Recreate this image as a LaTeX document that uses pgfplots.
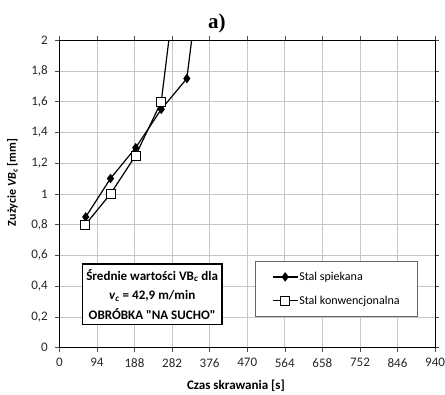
\documentclass[border=0pt]{standalone}
\usepackage{pgfplots}
\pgfplotsset{compat=1.18}
\usepackage{fontspec}
\setmainfont{Carlito}[Ligatures=TeXOff]
\newfontfamily\timesfont{Liberation Serif}
\begin{document}
\begin{tikzpicture}
\begin{axis}[
  scale only axis,
  width=375pt, height=307pt,
  xmin=0, xmax=940, ymin=0, ymax=2,
  xtick={0,94,188,282,376,470,564,658,752,846,940},
  ytick={0,0.2,0.4,0.6,0.8,1,1.2,1.4,1.6,1.8,2},
  grid=major,
  grid style={gray!45, line width=0.6pt},
  axis line style={black, line width=0.9pt},
  tick style={black!70, line width=0.5pt},
  tick align=outside,
  major tick length=4pt,
  /pgf/number format/assume math mode=true,
  /pgf/number format/use comma,
  tick label style={font=\fontsize{13}{13}\selectfont, text=black!85},
  yticklabel style={xshift=-4pt},
  xticklabel style={yshift=-3pt, inner xsep=0pt},
  xlabel={\textbf{Czas skrawania [s]}},
  ylabel={\textbf{Zużycie \textit{VB}\textsubscript{\textit{c}} [mm]}},
  xlabel style={font=\fontsize{13}{13}\selectfont, at={(axis description cs:0.47,0)}, anchor=center, yshift=-38pt},
  ylabel style={font=\fontsize{12}{12}\selectfont, at={(axis description cs:-0.125,0.537)}, anchor=center, inner sep=7pt},
  title={\rule{0pt}{28pt}a)},
  title style={at={(0.419,1)}, anchor=base, yshift=6pt, inner sep=0pt, font=\timesfont\bfseries\fontsize{21}{22}\selectfont},
  clip marker paths=true,
  legend cell align=left,
  legend image code/.code={\draw[mark repeat=2,mark phase=2] plot coordinates {(0pt,0pt)(12.5pt,0pt)(25pt,0pt)};},
  legend style={at={(rel axis cs:0.52,0.283)}, anchor=north west,
    draw=black!60, line width=0.6pt,
    font=\fontsize{12}{12}\selectfont,
    inner xsep=17pt, inner ysep=9pt, row sep=10pt,
    nodes={inner xsep=1pt}},
]
\addplot[black, line width=1.2pt, mark=diamond*, mark size=3.8pt, mark options={fill=black}]
  coordinates {(66,0.85) (128,1.1) (191,1.3) (255,1.55) (319,1.75) (343,2.25)};
\addlegendentry{Stal spiekana}
\addplot[black, line width=1.2pt, mark=square*, mark size=4.5pt, mark options={fill=white, line width=0.7pt}]
  coordinates {(65,0.8) (128,1.0) (191,1.25) (255,1.6) (293,2.4)};
\addlegendentry{Stal konwencjonalna}
\node[draw=black, line width=1.3pt, fill=white, align=center,
  font=\bfseries\fontsize{13}{19.5}\selectfont, inner xsep=4pt, inner ysep=5pt]
  at (rel axis cs:0.247,0.174)
  {Średnie wartości VB\textsubscript{\textit{c}} dla\\
   \textit{v}\textsubscript{\textit{c}} = 42,9 m/min\\
   OBRÓBKA "NA SUCHO"};
\end{axis}
\end{tikzpicture}
\end{document}
